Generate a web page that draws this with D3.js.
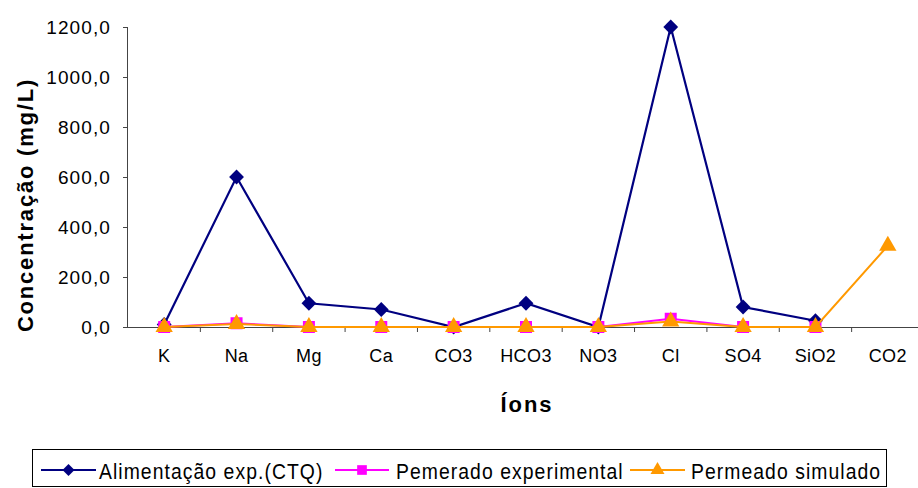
<!DOCTYPE html>
<html><head><meta charset="utf-8">
<script src="https://cdn.jsdelivr.net/npm/d3@7"></script>
<style>
body{margin:0;background:#fff;}
svg text{font-family:"Liberation Sans",Arial,sans-serif;fill:#000;}
</style></head>
<body>
<svg id="c" width="918" height="488"></svg>
<script>
const categories = ["K","Na","Mg","Ca","CO3","HCO3","NO3","Cl","SO4","SiO2","CO2"];
const alimentacao = [10,600,95,70,0,95,0,1200,80,25,null];
const pemeradoExp = [0,15,0,0,0,0,0,33,0,0,null];
const permeadoSim = [0,12,0,0,0,0,0,22,0,0,325];
const yTicks = [0,200,400,600,800,1000,1200];
const seriesNames = ["Alimentação exp.(CTQ)","Pemerado experimental","Permeado simulado"];

const svg = d3.select("#c");
const x = d3.scaleBand().domain(categories).range([128,924]).padding(0);
const y = d3.scaleLinear().domain([0,1200]).range([327,27]);

// axes
const yAxis = svg.append("g").attr("transform","translate(128,0)")
  .call(d3.axisLeft(y).tickValues(yTicks).tickSize(5).tickPadding(12).tickFormat(d=>d3.format(".1f")(d).replace(".",",")));
yAxis.selectAll("text").attr("font-size",19).style("letter-spacing","1.1px");
yAxis.select(".domain").attr("stroke","#444").attr("d","M-0.5,27.5V327.5");
yAxis.selectAll(".tick line").attr("stroke","#444");

const xAxis = svg.append("g").attr("transform","translate(0,327)")
  .call(d3.axisBottom(x).tickSize(0).tickPadding(22));
xAxis.select(".domain").attr("stroke","#444").attr("d","M128,0.5H918");
xAxis.selectAll("text").attr("font-size",18).style("letter-spacing","0.4px");
// ticks at band boundaries
svg.append("g").selectAll("line").data(categories.slice(1)).join("line")
  .attr("x1",d=>x(d)).attr("x2",d=>x(d)).attr("y1",327).attr("y2",332).attr("stroke","#444");

// titles
svg.append("text").attr("x",527).attr("y",412).attr("text-anchor","middle")
  .attr("font-size",22).attr("font-weight","bold").style("letter-spacing","2px").text("Íons");
svg.append("text").attr("transform","translate(33,205) rotate(-90)").attr("text-anchor","middle")
  .attr("font-size",22).attr("font-weight","bold").style("letter-spacing","1.8px").text("Concentração (mg/L)");

const cx = d => x(d) + x.bandwidth()/2;
const series = [
  {vals:alimentacao,color:"#000080",sym:d3.symbolSquare,rot:45,size:110,w:2.2},
  {vals:pemeradoExp,color:"#FF00FF",sym:d3.symbolSquare,rot:0,size:144,w:2},
  {vals:permeadoSim,color:"#FF9900",sym:d3.symbolTriangle,rot:0,size:130,w:2}
];
series.forEach(s=>{
  const pts = categories.map((c,i)=>({c,v:s.vals[i]})).filter(p=>p.v!==null);
  svg.append("path").datum(pts).attr("fill","none").attr("stroke",s.color).attr("stroke-width",s.w)
    .attr("d",d3.line().x(p=>cx(p.c)).y(p=>y(p.v)));
  svg.append("g").selectAll("path").data(pts).join("path")
    .attr("transform",p=>`translate(${cx(p.c)},${y(p.v)}) rotate(${s.rot})`)
    .attr("d",d3.symbol().type(s.sym).size(s.size)).attr("fill",s.color);
});

// legend
svg.append("rect").attr("x",32.5).attr("y",449.5).attr("width",854).attr("height",37)
  .attr("fill","#fff").attr("stroke","#000").attr("stroke-width",1);
const legX = [[41,96,99],[335,389,396],[630,685,691]];
series.forEach((s,i)=>{
  const [a,b,t] = legX[i];
  svg.append("line").attr("x1",a).attr("x2",b).attr("y1",470).attr("y2",470).attr("stroke",s.color).attr("stroke-width",2);
  svg.append("path").attr("transform",`translate(${(a+b)/2},470) rotate(${s.rot})`).attr("d",d3.symbol().type(s.sym).size(s.size*0.65)).attr("fill",s.color);
  svg.append("text").attr("transform",`translate(${t},479) scale(0.88,1)`).attr("font-size",22).style("letter-spacing","1.2px").text(seriesNames[i]);
});
</script>
</body></html>
